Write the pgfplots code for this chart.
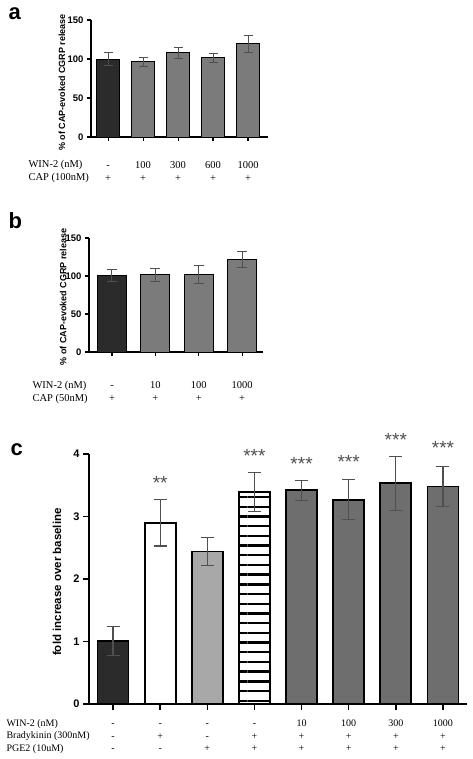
\documentclass[border=0pt]{standalone}
\usepackage{fontspec}
\setmainfont{Liberation Serif}
\setsansfont{Liberation Sans}
\usepackage{pgfplots}
\pgfplotsset{compat=1.18}
\usetikzlibrary{patterns.meta}
\definecolor{darkbar}{HTML}{2B2B2B}
\definecolor{midbar}{HTML}{7B7B7B}
\definecolor{cbar}{HTML}{6E6E6E}
\definecolor{lightbar}{HTML}{A8A8A8}
\definecolor{errc}{HTML}{505050}
\newcommand\rowfont{\fontsize{10.5}{13}\selectfont}
\newcommand\rowfontc{\fontsize{10}{12.5}\selectfont}
\pgfplotsset{
  panel/.style={
    scale only axis, axis lines=left, axis line style={-, line width=1.2pt},
    tick align=outside, major tick length=4pt, tick style={line width=1.2pt, black},
    clip=false, /pgf/number format/assume math mode=true,
    yticklabel style={font=\sffamily\bfseries\fontsize{9.5}{10}\selectfont},
    xticklabel style={inner sep=0pt, anchor=north, align=center, font=\rowfont},
  },
  mybar/.style={ybar, bar shift=0pt, draw=black, line width=0.8pt},
}
\begin{document}
\begin{tikzpicture}
\path[use as bounding box] (0,0) rectangle (473pt,-759pt);

% ---------------- panel a ----------------
\node[anchor=base west, font=\sffamily\bfseries\fontsize{22}{22}\selectfont] at (5pt,-20pt) {a};
\begin{axis}[panel, at={(91pt,-137pt)}, anchor=south west,
  width=177pt, height=117pt, xmin=-0.49, xmax=4.57, ymin=0, ymax=150,
  ytick={0,50,100,150}, xtick={0,...,4},
  xticklabels={{\strut -\\\strut +},{\strut 100\\\strut +},{\strut 300\\\strut +},{\strut 600\\\strut +},{\strut 1000\\\strut +}},
  xticklabel shift=18pt,
  ylabel={\% of CAP-evoked CGRP release},
  every axis y label/.style={at={(axis description cs:-0.164,0.466)}, anchor=center, rotate=90,
    font=\sffamily\bfseries\fontsize{9}{10}\selectfont},
]
\addplot[mybar, bar width=23pt, fill=darkbar,
  error bars/.cd, y dir=both, y explicit, error bar style={errc, line width=1pt},
  error mark options={rotate=90, mark size=4.5pt, line width=1pt, errc}]
  coordinates {(0,100) +- (0,8)};
\addplot[mybar, bar width=23pt, fill=midbar,
  error bars/.cd, y dir=both, y explicit, error bar style={errc, line width=1pt},
  error mark options={rotate=90, mark size=4.5pt, line width=1pt, errc}]
  coordinates {(1,96.5) +- (0,6) (2,108) +- (0,7) (3,101.5) +- (0,5.5) (4,119.5) +- (0,11)};
\end{axis}
\node[anchor=base west, font=\rowfont] at (25pt,-168pt) {WIN-2 (nM)};
\node[anchor=base west, font=\rowfont] at (25pt,-181pt) {CAP (100nM)};

% ---------------- panel b ----------------
\node[anchor=base west, font=\sffamily\bfseries\fontsize{22}{22}\selectfont] at (5pt,-228pt) {b};
\begin{axis}[panel, at={(89pt,-352pt)}, anchor=south west,
  width=174pt, height=114pt, xmin=-0.53, xmax=3.48, ymin=0, ymax=150,
  ytick={0,50,100,150}, xtick={0,...,3},
  xticklabels={{\strut -\\\strut +},{\strut 10\\\strut +},{\strut 100\\\strut +},{\strut 1000\\\strut +}},
  xticklabel shift=23pt,
  ylabel={\% of CAP-evoked CGRP release},
  every axis y label/.style={at={(axis description cs:-0.149,0.482)}, anchor=center, rotate=90,
    font=\sffamily\bfseries\fontsize{9}{10}\selectfont},
]
\addplot[mybar, bar width=29pt, fill=darkbar,
  error bars/.cd, y dir=both, y explicit, error bar style={errc, line width=1pt},
  error mark options={rotate=90, mark size=5pt, line width=1pt, errc}]
  coordinates {(0,100.5) +- (0,8)};
\addplot[mybar, bar width=29pt, fill=midbar,
  error bars/.cd, y dir=both, y explicit, error bar style={errc, line width=1pt},
  error mark options={rotate=90, mark size=5pt, line width=1pt, errc}]
  coordinates {(1,101.5) +- (0,9) (2,101.5) +- (0,12) (3,121.5) +- (0,10.5)};
\end{axis}
\node[anchor=base west, font=\rowfont] at (29pt,-388.2pt) {WIN-2 (nM)};
\node[anchor=base west, font=\rowfont] at (29pt,-401.2pt) {CAP (50nM)};

% ---------------- panel c ----------------
\node[anchor=base west, font=\sffamily\bfseries\fontsize{22}{22}\selectfont] at (7pt,-455pt) {c};
\begin{axis}[panel, at={(89pt,-704pt)}, anchor=south west,
  width=378pt, height=250pt, xmin=-0.51, xmax=7.51, ymin=0, ymax=4,
  ytick={0,1,2,3,4}, xtick={0,...,7},
  axis line style={-, line width=1.8pt}, tick style={line width=1.6pt, black},
  major tick length=6pt,
  yticklabel style={font=\sffamily\bfseries\fontsize{11}{12}\selectfont},
  xticklabel style={font=\rowfontc},
  xticklabels={{\strut -\\\strut -\\\strut -},{\strut -\\\strut +\\\strut -},{\strut -\\\strut -\\\strut +},{\strut -\\\strut +\\\strut +},
    {\strut 10\\\strut +\\\strut +},{\strut 100\\\strut +\\\strut +},{\strut 300\\\strut +\\\strut +},{\strut 1000\\\strut +\\\strut +}},
  xticklabel shift=8pt,
  ylabel={fold increase over baseline},
  every axis y label/.style={at={(axis description cs:-0.0847,0.488)}, anchor=center, rotate=90,
    font=\sffamily\bfseries\fontsize{11.5}{12}\selectfont},
]
\addplot[mybar, bar width=31pt, line width=1.8pt, fill=darkbar,
  error bars/.cd, y dir=both, y explicit, error bar style={errc, line width=1.3pt},
  error mark options={rotate=90, mark size=6.5pt, line width=1.3pt, errc}]
  coordinates {(0,1.01) +- (0,0.23)};
\addplot[mybar, bar width=31pt, line width=1.8pt, fill=white,
  error bars/.cd, y dir=both, y explicit, error bar style={errc, line width=1.3pt},
  error mark options={rotate=90, mark size=6.5pt, line width=1.3pt, errc}]
  coordinates {(1,2.90) +- (0,0.37)};
\addplot[mybar, bar width=31pt, line width=1.8pt, fill=lightbar,
  error bars/.cd, y dir=both, y explicit, error bar style={errc, line width=1.3pt},
  error mark options={rotate=90, mark size=6.5pt, line width=1.3pt, errc}]
  coordinates {(2,2.44) +- (0,0.22)};
\addplot[mybar, bar width=31pt, line width=1.8pt, fill=white,
  postaction={pattern={Lines[angle=0,distance=9.7pt,line width=2.4pt]}, pattern color=black},
  error bars/.cd, y dir=both, y explicit, error bar style={errc, line width=1.3pt},
  error mark options={rotate=90, mark size=6.5pt, line width=1.3pt, errc}]
  coordinates {(3,3.39) +- (0,0.31)};
\addplot[mybar, bar width=31pt, line width=1.8pt, fill=cbar,
  error bars/.cd, y dir=both, y explicit, error bar style={errc, line width=1.3pt},
  error mark options={rotate=90, mark size=6.5pt, line width=1.3pt, errc}]
  coordinates {(4,3.42) +- (0,0.16) (5,3.27) +- (0,0.32) (6,3.53) +- (0,0.43) (7,3.48) +- (0,0.32)};
\addplot[draw=none, mark=none, nodes near coords, point meta=explicit symbolic,
  every node near coord/.append style={anchor=base, text=errc, font=\sffamily\fontsize{19}{19}\selectfont}]
  coordinates {(1,3.43)[**] (3,3.87)[***] (4,3.73)[***] (5,3.77)[***] (6,4.12)[***] (7,3.99)[***]};
\end{axis}
\node[anchor=base west, font=\rowfontc] at (3pt,-726.2pt) {WIN-2 (nM)};
\node[anchor=base west, font=\rowfontc] at (3pt,-738.7pt) {Bradykinin (300nM)};
\node[anchor=base west, font=\rowfontc] at (3pt,-751.2pt) {PGE2 (10uM)};
\end{tikzpicture}
\end{document}
